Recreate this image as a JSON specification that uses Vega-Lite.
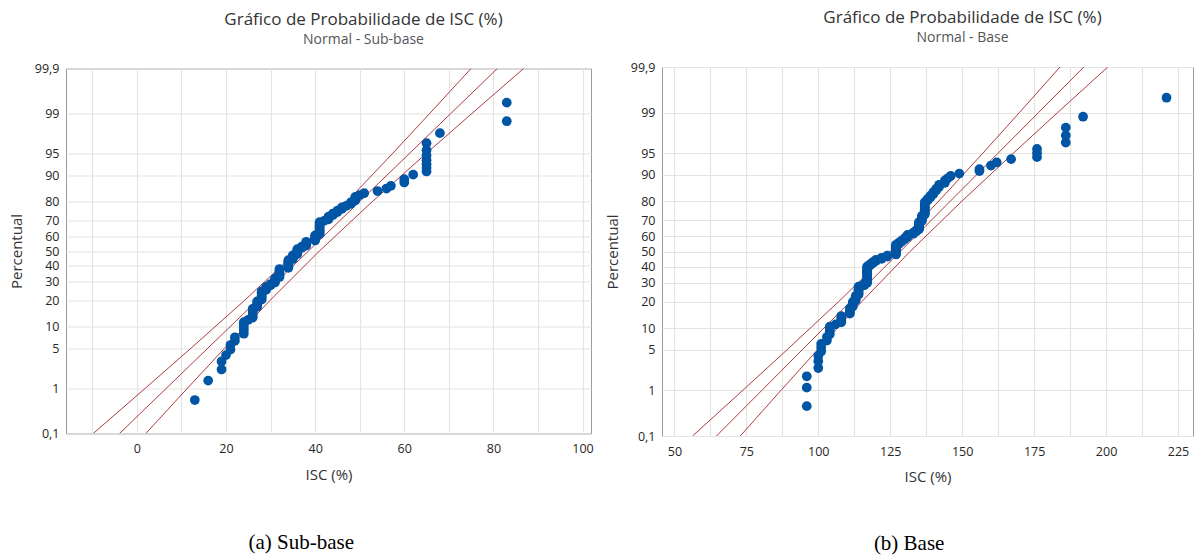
{
  "$schema": "https://vega.github.io/schema/vega-lite/v6.json",
  "background": "white",
  "padding": {"left": 8, "top": 8, "right": 2, "bottom": 4},
  "spacing": 10,
  "center": true,
  "config": {
    "font": "Open Sans",
    "view": {"stroke": "#9a9a9a", "strokeWidth": 1},
    "axis": {
      "gridColor": "#e4e4e4", "gridWidth": 1.2, "domain": false, "ticks": false, "tickCount": 100,
      "labelFont": "Open Sans", "labelFontSize": 12.5, "labelColor": "#262626", "labelFlush": false, "labelOverlap": false,
      "titleFont": "Open Sans", "titleFontSize": 15, "titleFontWeight": "normal", "titleColor": "#333333"
    }
  },
  "datasets": {
    "ptsA": [
      {"isc":13,"pct":0.58},{"isc":16,"pct":1.41},{"isc":19,"pct":2.24},{"isc":19,"pct":3.07},{"isc":20,"pct":3.9},
      {"isc":21,"pct":4.74},{"isc":21,"pct":5.57},{"isc":22,"pct":6.4},{"isc":22,"pct":7.2},{"isc":24,"pct":8.07},
      {"isc":24,"pct":8.9},{"isc":24,"pct":9.7},{"isc":24,"pct":10.55},{"isc":24,"pct":11.4},{"isc":25,"pct":12.2},
      {"isc":26,"pct":13.0},{"isc":26,"pct":13.9},{"isc":26,"pct":14.7},{"isc":26,"pct":15.5},{"isc":26,"pct":16.4},
      {"isc":27,"pct":17.2},{"isc":27,"pct":18.0},{"isc":27,"pct":18.9},{"isc":27,"pct":19.7},{"isc":28,"pct":20.5},
      {"isc":28,"pct":21.3},{"isc":28,"pct":22.2},{"isc":28,"pct":23.0},{"isc":28,"pct":23.8},{"isc":28,"pct":24.7},
      {"isc":29,"pct":25.5},{"isc":29,"pct":26.3},{"isc":29,"pct":27.2},{"isc":30,"pct":28.0},{"isc":30,"pct":28.8},
      {"isc":31,"pct":29.7},{"isc":31,"pct":30.5},{"isc":31,"pct":31.3},{"isc":31,"pct":32.1},{"isc":32,"pct":33.0},
      {"isc":32,"pct":33.8},{"isc":32,"pct":34.6},{"isc":32,"pct":35.5},{"isc":32,"pct":36.3},{"isc":32,"pct":37.1},
      {"isc":32,"pct":38.0},{"isc":34,"pct":38.8},{"isc":34,"pct":39.6},{"isc":34,"pct":40.5},{"isc":34,"pct":41.3},
      {"isc":34,"pct":42.1},{"isc":34,"pct":42.9},{"isc":34,"pct":43.8},{"isc":35,"pct":44.6},{"isc":35,"pct":45.4},
      {"isc":35,"pct":46.3},{"isc":35,"pct":47.1},{"isc":36,"pct":47.9},{"isc":36,"pct":48.8},{"isc":36,"pct":49.6},
      {"isc":36,"pct":50.4},{"isc":36,"pct":51.3},{"isc":37,"pct":52.1},{"isc":37,"pct":52.9},{"isc":38,"pct":53.7},
      {"isc":38,"pct":54.6},{"isc":38,"pct":55.4},{"isc":38,"pct":56.2},{"isc":40,"pct":57.1},{"isc":40,"pct":57.9},
      {"isc":40,"pct":58.7},{"isc":40,"pct":59.6},{"isc":40,"pct":60.4},{"isc":41,"pct":61.2},{"isc":41,"pct":62.0},
      {"isc":41,"pct":62.9},{"isc":41,"pct":63.7},{"isc":41,"pct":64.5},{"isc":41,"pct":65.4},{"isc":41,"pct":66.2},
      {"isc":41,"pct":67.0},{"isc":41,"pct":67.9},{"isc":41,"pct":68.7},{"isc":42,"pct":69.5},{"isc":43,"pct":70.4},
      {"isc":43,"pct":71.2},{"isc":43,"pct":72.0},{"isc":44,"pct":72.8},{"isc":44,"pct":73.7},{"isc":45,"pct":74.5},
      {"isc":45,"pct":75.3},{"isc":46,"pct":76.2},{"isc":46,"pct":77.0},{"isc":47,"pct":77.8},{"isc":48,"pct":78.7},
      {"isc":48,"pct":79.5},{"isc":49,"pct":80.3},{"isc":49,"pct":81.1},{"isc":49,"pct":82.0},{"isc":50,"pct":82.8},
      {"isc":51,"pct":83.6},{"isc":54,"pct":84.5},{"isc":56,"pct":85.5},{"isc":57,"pct":86.5},{"isc":60,"pct":87.7},
      {"isc":60,"pct":88.8},{"isc":62,"pct":90.2},{"isc":65,"pct":91.1},{"isc":65,"pct":92.0},{"isc":65,"pct":92.9},
      {"isc":65,"pct":93.8},{"isc":65,"pct":94.7},{"isc":65,"pct":95.6},{"isc":65,"pct":96.6},{"isc":68,"pct":97.7},
      {"isc":83,"pct":98.6},{"isc":83,"pct":99.4}
    ],
    "linesA": [
      {"band":"lo","isc":-9.79,"pct":0.1},{"band":"lo","isc":1.86,"pct":1},{"band":"lo","isc":12.16,"pct":5},{"band":"lo","isc":24.09,"pct":20},{"band":"lo","isc":36.05,"pct":50},{"band":"lo","isc":47.19,"pct":80},{"band":"lo","isc":57.30,"pct":95},{"band":"lo","isc":65.68,"pct":99},{"band":"lo","isc":74.99,"pct":99.9},
      {"band":"mid","isc":-3.89,"pct":0.1},{"band":"mid","isc":6.59,"pct":1},{"band":"mid","isc":15.93,"pct":5},{"band":"mid","isc":26.95,"pct":20},{"band":"mid","isc":38.5,"pct":50},{"band":"mid","isc":50.05,"pct":80},{"band":"mid","isc":61.07,"pct":95},{"band":"mid","isc":70.41,"pct":99},{"band":"mid","isc":80.89,"pct":99.9},
      {"band":"hi","isc":2.01,"pct":0.1},{"band":"hi","isc":11.32,"pct":1},{"band":"hi","isc":19.70,"pct":5},{"band":"hi","isc":29.81,"pct":20},{"band":"hi","isc":40.96,"pct":50},{"band":"hi","isc":52.91,"pct":80},{"band":"hi","isc":64.84,"pct":95},{"band":"hi","isc":75.14,"pct":99},{"band":"hi","isc":86.79,"pct":99.9}
    ],
    "ptsB": [
      {"isc":96,"pct":0.48},{"isc":96,"pct":1.13},{"isc":96,"pct":1.83},
      {"isc":100,"pct":2.55},{"isc":100,"pct":3.3},{"isc":100,"pct":4.0},
      {"isc":101,"pct":4.7},{"isc":101,"pct":5.4},{"isc":101,"pct":6.1},
      {"isc":103,"pct":6.8},{"isc":103,"pct":7.6},
      {"isc":104,"pct":8.3},{"isc":104,"pct":9.1},{"isc":104,"pct":9.8},{"isc":104,"pct":10.4},
      {"isc":106,"pct":11.1},
      {"isc":108,"pct":11.8},{"isc":108,"pct":12.5},{"isc":108,"pct":13.2},{"isc":108,"pct":14.0},
      {"isc":111,"pct":14.9},{"isc":111,"pct":15.6},{"isc":111,"pct":16.3},{"isc":111,"pct":17.0},
      {"isc":112,"pct":17.8},{"isc":112,"pct":18.5},{"isc":112,"pct":19.2},{"isc":112,"pct":19.9},
      {"isc":113,"pct":20.6},{"isc":113,"pct":21.4},{"isc":113,"pct":22.1},{"isc":113,"pct":22.8},
      {"isc":114,"pct":23.5},{"isc":114,"pct":24.2},{"isc":114,"pct":25.0},{"isc":114,"pct":25.7},{"isc":114,"pct":26.4},{"isc":114,"pct":27.1},{"isc":114,"pct":27.8},
      {"isc":116,"pct":28.6},{"isc":116,"pct":29.3},
      {"isc":117,"pct":30.0},{"isc":117,"pct":30.7},{"isc":117,"pct":31.5},{"isc":117,"pct":32.2},{"isc":117,"pct":32.9},{"isc":117,"pct":33.6},{"isc":117,"pct":34.3},{"isc":117,"pct":35.1},{"isc":117,"pct":35.8},{"isc":117,"pct":36.5},{"isc":117,"pct":37.2},{"isc":117,"pct":37.9},{"isc":117,"pct":38.7},{"isc":117,"pct":39.4},{"isc":117,"pct":40.1},
      {"isc":118,"pct":40.8},{"isc":118,"pct":41.5},
      {"isc":119,"pct":42.3},{"isc":119,"pct":43.0},
      {"isc":120,"pct":43.7},{"isc":120,"pct":44.4},
      {"isc":122,"pct":45.1},{"isc":122,"pct":45.8},
      {"isc":124,"pct":46.6},{"isc":124,"pct":47.3},
      {"isc":127,"pct":48.0},{"isc":127,"pct":48.7},{"isc":127,"pct":49.4},{"isc":127,"pct":50.1},{"isc":127,"pct":50.9},{"isc":127,"pct":51.6},{"isc":127,"pct":52.3},{"isc":127,"pct":53.0},{"isc":127,"pct":53.7},{"isc":127,"pct":54.5},
      {"isc":128,"pct":55.2},{"isc":128,"pct":55.9},
      {"isc":129,"pct":56.6},{"isc":129,"pct":57.3},
      {"isc":130,"pct":58.1},{"isc":130,"pct":58.8},
      {"isc":131,"pct":59.5},{"isc":131,"pct":60.2},{"isc":131,"pct":60.9},
      {"isc":133,"pct":61.7},{"isc":133,"pct":62.4},
      {"isc":134,"pct":63.1},{"isc":134,"pct":63.8},
      {"isc":135,"pct":64.5},{"isc":135,"pct":65.2},{"isc":135,"pct":66.0},{"isc":135,"pct":66.7},{"isc":135,"pct":67.4},{"isc":135,"pct":68.1},{"isc":135,"pct":68.8},
      {"isc":136,"pct":69.6},{"isc":136,"pct":70.3},{"isc":136,"pct":71.0},{"isc":136,"pct":71.7},{"isc":136,"pct":72.4},
      {"isc":137,"pct":73.2},{"isc":137,"pct":73.9},{"isc":137,"pct":74.6},{"isc":137,"pct":75.3},{"isc":137,"pct":76.0},{"isc":137,"pct":76.8},{"isc":137,"pct":77.5},{"isc":137,"pct":78.2},{"isc":137,"pct":78.9},{"isc":137,"pct":79.6},
      {"isc":138,"pct":80.4},{"isc":138,"pct":81.1},
      {"isc":139,"pct":81.8},{"isc":139,"pct":82.5},
      {"isc":140,"pct":83.2},{"isc":140,"pct":84.0},
      {"isc":141,"pct":84.7},{"isc":141,"pct":85.4},
      {"isc":142,"pct":86.1},{"isc":142,"pct":86.8},
      {"isc":144,"pct":87.5},{"isc":144,"pct":88.3},
      {"isc":145,"pct":89.0},{"isc":146,"pct":89.7},{"isc":149,"pct":90.4},
      {"isc":156,"pct":91.1},{"isc":156,"pct":91.6},
      {"isc":160,"pct":92.5},{"isc":162,"pct":93.2},{"isc":167,"pct":93.9},
      {"isc":176,"pct":94.3},{"isc":176,"pct":95.0},{"isc":176,"pct":95.7},
      {"isc":186,"pct":96.6},{"isc":186,"pct":97.4},{"isc":186,"pct":98.1},
      {"isc":192,"pct":98.8},{"isc":221,"pct":99.5}
    ],
    "linesB": [
      {"band":"lo","isc":56.32,"pct":0.1},{"band":"lo","isc":73.75,"pct":1},{"band":"lo","isc":89.17,"pct":5},{"band":"lo","isc":107.03,"pct":20},{"band":"lo","isc":125.00,"pct":50},{"band":"lo","isc":141.83,"pct":80},{"band":"lo","isc":157.15,"pct":95},{"band":"lo","isc":169.87,"pct":99},{"band":"lo","isc":184.00,"pct":99.9},
      {"band":"mid","isc":64.61,"pct":0.1},{"band":"mid","isc":80.39,"pct":1},{"band":"mid","isc":94.46,"pct":5},{"band":"mid","isc":111.05,"pct":20},{"band":"mid","isc":128.45,"pct":50},{"band":"mid","isc":145.85,"pct":80},{"band":"mid","isc":162.44,"pct":95},{"band":"mid","isc":176.51,"pct":99},{"band":"mid","isc":192.29,"pct":99.9},
      {"band":"hi","isc":72.90,"pct":0.1},{"band":"hi","isc":87.03,"pct":1},{"band":"hi","isc":99.75,"pct":5},{"band":"hi","isc":115.07,"pct":20},{"band":"hi","isc":131.90,"pct":50},{"band":"hi","isc":149.87,"pct":80},{"band":"hi","isc":167.73,"pct":95},{"band":"hi","isc":183.15,"pct":99},{"band":"hi","isc":200.58,"pct":99.9}
    ]
  },
  "hconcat": [
    {
      "title": {"text": "(a) Sub-base", "orient": "bottom", "anchor": "middle", "font": "Liberation Serif", "fontSize": 21, "fontWeight": "normal", "color": "black", "offset": 49},
      "vconcat": [
        {
          "width": 525, "height": 365,
          "title": {"text": "Gráfico de Probabilidade de ISC (%)", "subtitle": "Normal - Sub-base", "anchor": "middle", "frame": "group", "dx": 35, "fontSize": 17, "fontWeight": "normal", "color": "#333333", "subtitleFontSize": 14, "subtitleColor": "#555555", "subtitlePadding": 4, "offset": 15},
          "layer": [
            {
              "data": {"name": "linesA"},
              "transform": [{"calculate": "quantileNormal(datum.pct/100)", "as": "z"}],
              "mark": {"type": "line", "color": "#a3262a", "strokeWidth": 0.9, "clip": true},
              "encoding": {
                "x": {"field": "isc", "type": "quantitative", "scale": {"domain": [-15.9, 101.9], "nice": false, "zero": false},
                      "axis": {"title": "ISC (%)", "values": [-10,0,10,20,30,40,50,60,70,80,90,100], "labelExpr": "datum.value % 20 == 0 ? datum.label : ''", "labelPadding": 9, "titlePadding": 12}},
                "y": {"field": "z", "type": "quantitative", "scale": {"domain": [-3.0902, 3.0902], "nice": false, "zero": false},
                      "axis": {"title": "Percentual", "values": [-3.0902,-2.3263,-1.6449,-1.2816,-0.8416,-0.5244,-0.2533,0,0.2533,0.5244,0.8416,1.2816,1.6449,2.3263,3.0902],
                               "labelExpr": "replace(format(cumulativeNormal(datum.value)*100, '.3~r'), '.', ',')", "labelPadding": 7, "titlePadding": 10}},
                "detail": {"field": "band"},
                "order": {"field": "pct", "type": "quantitative"}
              }
            },
            {
              "data": {"name": "ptsA"},
              "transform": [{"calculate": "quantileNormal(datum.pct/100)", "as": "z"}],
              "mark": {"type": "circle", "size": 95, "color": "#0055a5", "opacity": 1},
              "encoding": {
                "x": {"field": "isc", "type": "quantitative"},
                "y": {"field": "z", "type": "quantitative"}
              }
            }
          ]
        }
      ]
    },
    {
      "title": {"text": "(b) Base", "orient": "bottom", "anchor": "middle", "dx": 10, "font": "Liberation Serif", "fontSize": 21, "fontWeight": "normal", "color": "black", "offset": 48},
      "vconcat": [
        {
          "width": 531, "height": 369,
          "title": {"text": "Gráfico de Probabilidade de ISC (%)", "subtitle": "Normal - Base", "anchor": "middle", "frame": "group", "dx": 35, "fontSize": 17, "fontWeight": "normal", "color": "#333333", "subtitleFontSize": 14, "subtitleColor": "#555555", "subtitlePadding": 4, "offset": 15},
          "layer": [
            {
              "data": {"name": "linesB"},
              "transform": [{"calculate": "quantileNormal(datum.pct/100)", "as": "z"}],
              "mark": {"type": "line", "color": "#a3262a", "strokeWidth": 0.9, "clip": true},
              "encoding": {
                "x": {"field": "isc", "type": "quantitative", "scale": {"domain": [45.7, 230.2], "nice": false, "zero": false},
                      "axis": {"title": "ISC (%)", "values": [50,62.5,75,87.5,100,112.5,125,137.5,150,162.5,175,187.5,200,212.5,225], "labelExpr": "datum.value % 25 == 0 ? datum.label : ''", "labelPadding": 9, "titlePadding": 12}},
                "y": {"field": "z", "type": "quantitative", "scale": {"domain": [-3.0902, 3.0902], "nice": false, "zero": false},
                      "axis": {"title": "Percentual", "values": [-3.0902,-2.3263,-1.6449,-1.2816,-0.8416,-0.5244,-0.2533,0,0.2533,0.5244,0.8416,1.2816,1.6449,2.3263,3.0902],
                               "labelExpr": "replace(format(cumulativeNormal(datum.value)*100, '.3~r'), '.', ',')", "labelPadding": 7, "titlePadding": 10}},
                "detail": {"field": "band"},
                "order": {"field": "pct", "type": "quantitative"}
              }
            },
            {
              "data": {"name": "ptsB"},
              "transform": [{"calculate": "quantileNormal(datum.pct/100)", "as": "z"}],
              "mark": {"type": "circle", "size": 95, "color": "#0055a5", "opacity": 1},
              "encoding": {
                "x": {"field": "isc", "type": "quantitative"},
                "y": {"field": "z", "type": "quantitative"}
              }
            }
          ]
        }
      ]
    }
  ]
}
